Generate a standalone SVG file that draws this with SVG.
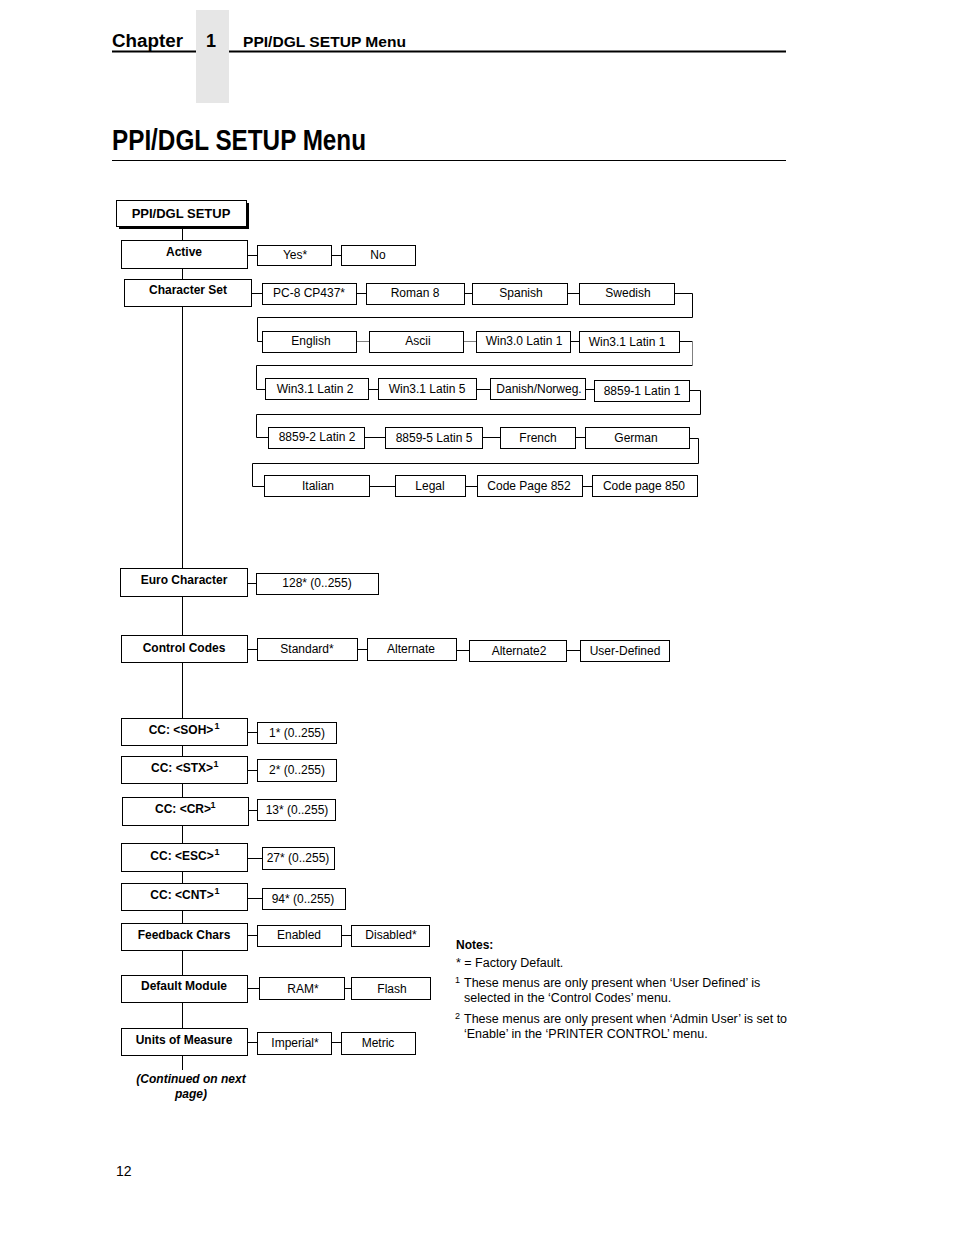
<svg xmlns="http://www.w3.org/2000/svg" width="954" height="1235" viewBox="0 0 954 1235">
<style>
text{font-family:"Liberation Sans",Arial,sans-serif;fill:#000}
.n rect{fill:#fff;stroke:#000;stroke-width:1}
.n text{font-size:12px;font-weight:bold;text-anchor:middle}
.o rect{fill:#fff;stroke:#000;stroke-width:1}
.o text{font-size:12px;text-anchor:middle}
.c path{fill:none;stroke:#000;stroke-width:1}
.c path.g{stroke:#808080}
.note{font-size:12.5px}
</style>
<rect x="0" y="0" width="954" height="1235" fill="#fff"/>
<!-- header -->
<g id="header">
<rect x="196" y="10" width="33" height="93" fill="#e6e6e6"/>
<text x="112" y="47" font-size="18" font-weight="bold" textLength="71" lengthAdjust="spacingAndGlyphs">Chapter</text>
<text x="206" y="47" font-size="18" font-weight="bold">1</text>
<text x="243" y="47" font-size="14" font-weight="bold" textLength="163" lengthAdjust="spacingAndGlyphs">PPI/DGL SETUP Menu</text>
<path d="M112 51.5H196M229 51.5H786" stroke="#000" stroke-width="2"/>
<text x="112" y="150" font-size="29" font-weight="bold" textLength="254" lengthAdjust="spacingAndGlyphs">PPI/DGL SETUP Menu</text>
<path d="M112 160.5H786" stroke="#000" stroke-width="1"/>
</g>
<!-- connectors -->
<g id="connectors" class="c">
<path d="M182.5 226V1070"/>
<path d="M247 255.5H257M331 255.5H341"/>
<path d="M251 293.5H262M356 293.5H366M464 293.5H472M567 293.5H579"/>
<path d="M674 293.5H692.5V317.5H257.5V341.5H262"/>
<path class="g" d="M356 341.5H369M463 341.5H476"/>
<path d="M570 341.5H579"/>
<path d="M679 341.5H692.5"/>
<path class="g" d="M692.5 341.5V365"/>
<path d="M692.5 365.5H256.5V389.5H265"/>
<path d="M368 389.5H378M476 389.5H490M585 389.5H594"/>
<path d="M689 390.5H700.5V414.5H256.5V437.5H268"/>
<path d="M364 437.5H385M482 437.5H500M575 437.5H585"/>
<path d="M689 438.5H698.5V463.5H252.5V486.5H264"/>
<path d="M369 486.5H395M465 486.5H477M582 486.5H592"/>
<path d="M247 583.5H256"/>
<path d="M247 649.5H257M357 649.5H367M456 650.5H469M566 650.5H580"/>
<path d="M247 732.5H257M247 770.5H257M248 810.5H257M247 858.5H262M247 898.5H262"/>
<path d="M247 935.5H257M341 935.5H351"/>
<path d="M247 988.5H259M344 988.5H351"/>
<path d="M247 1042.5H257M331 1042.5H341"/>
</g>
<!-- nodes -->
<g id="root" class="n">
<rect x="119" y="203" width="130" height="26" style="fill:#000;stroke:none"/>
<rect x="116.5" y="200.5" width="130" height="26"/>
<text x="181" y="218" style="font-size:13px">PPI/DGL SETUP</text>
</g>
<g id="active" class="n"><rect x="121.5" y="240.5" width="126" height="28"/><text x="184" y="256">Active</text></g>
<g id="active-yes" class="o"><rect x="257.5" y="245.5" width="74" height="20"/><text x="295" y="259">Yes*</text></g>
<g id="active-no" class="o"><rect x="341.5" y="245.5" width="74" height="20"/><text x="378" y="259">No</text></g>

<g id="charset" class="n"><rect x="124.5" y="279.5" width="127" height="27"/><text x="188" y="294">Character Set</text></g>
<g id="cs-pc8" class="o"><rect x="262.5" y="283.5" width="94" height="21"/><text x="309" y="297">PC-8 CP437*</text></g>
<g id="cs-roman8" class="o"><rect x="366.5" y="283.5" width="98" height="21"/><text x="415" y="297">Roman 8</text></g>
<g id="cs-spanish" class="o"><rect x="472.5" y="283.5" width="95" height="21"/><text x="521" y="297">Spanish</text></g>
<g id="cs-swedish" class="o"><rect x="579.5" y="283.5" width="95" height="21"/><text x="628" y="297">Swedish</text></g>

<g id="cs-english" class="o"><rect x="262.5" y="331.5" width="94" height="21"/><text x="311" y="345">English</text></g>
<g id="cs-ascii" class="o"><rect x="369.5" y="331.5" width="94" height="21"/><text x="418" y="345">Ascii</text></g>
<g id="cs-win30l1" class="o"><rect x="476.5" y="331.5" width="94" height="21"/><text x="524" y="345">Win3.0 Latin 1</text></g>
<g id="cs-win31l1" class="o"><rect x="579.5" y="331.5" width="100" height="21"/><text x="627" y="346">Win3.1 Latin 1</text></g>

<g id="cs-win31l2" class="o"><rect x="265.5" y="378.5" width="103" height="21"/><text x="315" y="393">Win3.1 Latin 2</text></g>
<g id="cs-win31l5" class="o"><rect x="378.5" y="378.5" width="98" height="21"/><text x="427" y="393">Win3.1 Latin 5</text></g>
<g id="cs-danish" class="o"><rect x="490.5" y="378.5" width="95" height="21"/><text x="539" y="393">Danish/Norweg.</text></g>
<g id="cs-8859l1" class="o"><rect x="594.5" y="380.5" width="95" height="21"/><text x="642" y="395">8859-1 Latin 1</text></g>

<g id="cs-8859l2" class="o"><rect x="268.5" y="427.5" width="96" height="21"/><text x="317" y="441">8859-2 Latin 2</text></g>
<g id="cs-8859l5" class="o"><rect x="385.5" y="427.5" width="97" height="21"/><text x="434" y="442">8859-5 Latin 5</text></g>
<g id="cs-french" class="o"><rect x="500.5" y="427.5" width="75" height="21"/><text x="538" y="442">French</text></g>
<g id="cs-german" class="o"><rect x="585.5" y="427.5" width="104" height="21"/><text x="636" y="442">German</text></g>

<g id="cs-italian" class="o"><rect x="264.5" y="475.5" width="105" height="21"/><text x="318" y="490">Italian</text></g>
<g id="cs-legal" class="o"><rect x="395.5" y="475.5" width="70" height="21"/><text x="430" y="490">Legal</text></g>
<g id="cs-cp852" class="o"><rect x="477.5" y="475.5" width="105" height="21"/><text x="529" y="490">Code Page 852</text></g>
<g id="cs-cp850" class="o"><rect x="592.5" y="475.5" width="105" height="21"/><text x="644" y="490">Code page 850</text></g>

<g id="euro" class="n"><rect x="120.5" y="568.5" width="127" height="28"/><text x="184" y="584">Euro Character</text></g>
<g id="euro-128" class="o"><rect x="256.5" y="573.5" width="122" height="21"/><text x="317" y="587">128* (0..255)</text></g>

<g id="ctrl" class="n"><rect x="121.5" y="635.5" width="126" height="27"/><text x="184" y="652">Control Codes</text></g>
<g id="ctrl-std" class="o"><rect x="257.5" y="638.5" width="100" height="22"/><text x="307" y="653">Standard*</text></g>
<g id="ctrl-alt" class="o"><rect x="367.5" y="638.5" width="89" height="22"/><text x="411" y="653">Alternate</text></g>
<g id="ctrl-alt2" class="o"><rect x="469.5" y="640.5" width="97" height="21"/><text x="519" y="655">Alternate2</text></g>
<g id="ctrl-user" class="o"><rect x="580.5" y="640.5" width="89" height="21"/><text x="625" y="655">User-Defined</text></g>

<g id="cc-soh" class="n"><rect x="121.5" y="718.5" width="126" height="27"/><text x="181" y="734">CC: &lt;SOH&gt;</text><text x="217" y="729" style="font-size:9px">1</text></g>
<g id="cc-soh-v" class="o"><rect x="257.5" y="722.5" width="79" height="21"/><text x="297" y="737">1* (0..255)</text></g>
<g id="cc-stx" class="n"><rect x="121.5" y="756.5" width="126" height="27"/><text x="182" y="772">CC: &lt;STX&gt;</text><text x="216" y="767" style="font-size:9px">1</text></g>
<g id="cc-stx-v" class="o"><rect x="257.5" y="759.5" width="79" height="22"/><text x="297" y="774">2* (0..255)</text></g>
<g id="cc-cr" class="n"><rect x="122.5" y="797.5" width="126" height="28"/><text x="183" y="813">CC: &lt;CR&gt;</text><text x="213" y="808" style="font-size:9px">1</text></g>
<g id="cc-cr-v" class="o"><rect x="257.5" y="799.5" width="78" height="21"/><text x="297" y="814">13* (0..255)</text></g>
<g id="cc-esc" class="n"><rect x="121.5" y="843.5" width="126" height="28"/><text x="182" y="860">CC: &lt;ESC&gt;</text><text x="217" y="855" style="font-size:9px">1</text></g>
<g id="cc-esc-v" class="o"><rect x="262.5" y="847.5" width="72" height="22"/><text x="298" y="862">27* (0..255)</text></g>
<g id="cc-cnt" class="n"><rect x="121.5" y="883.5" width="126" height="27"/><text x="182" y="899">CC: &lt;CNT&gt;</text><text x="217" y="894" style="font-size:9px">1</text></g>
<g id="cc-cnt-v" class="o"><rect x="262.5" y="888.5" width="83" height="21"/><text x="303" y="903">94* (0..255)</text></g>

<g id="feedback" class="n"><rect x="121.5" y="923.5" width="126" height="27"/><text x="184" y="939">Feedback Chars</text></g>
<g id="fb-en" class="o"><rect x="257.5" y="925.5" width="84" height="21"/><text x="299" y="939">Enabled</text></g>
<g id="fb-dis" class="o"><rect x="351.5" y="925.5" width="78" height="21"/><text x="391" y="939">Disabled*</text></g>

<g id="defmod" class="n"><rect x="121.5" y="975.5" width="126" height="27"/><text x="184" y="990">Default Module</text></g>
<g id="dm-ram" class="o"><rect x="259.5" y="977.5" width="85" height="22"/><text x="303" y="993">RAM*</text></g>
<g id="dm-flash" class="o"><rect x="351.5" y="977.5" width="79" height="22"/><text x="392" y="993">Flash</text></g>

<g id="units" class="n"><rect x="121.5" y="1028.5" width="126" height="27"/><text x="184" y="1044">Units of Measure</text></g>
<g id="un-imp" class="o"><rect x="257.5" y="1032.5" width="74" height="22"/><text x="295" y="1047">Imperial*</text></g>
<g id="un-met" class="o"><rect x="341.5" y="1032.5" width="74" height="22"/><text x="378" y="1047">Metric</text></g>

<g id="continued">
<text x="191" y="1083" font-size="12" font-weight="bold" font-style="italic" text-anchor="middle">(Continued on next</text>
<text x="191" y="1098" font-size="12" font-weight="bold" font-style="italic" text-anchor="middle">page)</text>
</g>

<g id="notes" class="note">
<text x="456" y="949" font-weight="bold" font-size="12">Notes:</text>
<text x="456" y="967">* = Factory Default.</text>
<text x="455" y="983" font-size="9">1</text>
<text x="464" y="987">These menus are only present when ‘User Defined’ is</text>
<text x="464" y="1002">selected in the ‘Control Codes’ menu.</text>
<text x="455" y="1019" font-size="9">2</text>
<text x="464" y="1023">These menus are only present when ‘Admin User’ is set to</text>
<text x="464" y="1038">‘Enable’ in the ‘PRINTER CONTROL’ menu.</text>
</g>
<text x="116" y="1176" font-size="14">12</text>
</svg>
